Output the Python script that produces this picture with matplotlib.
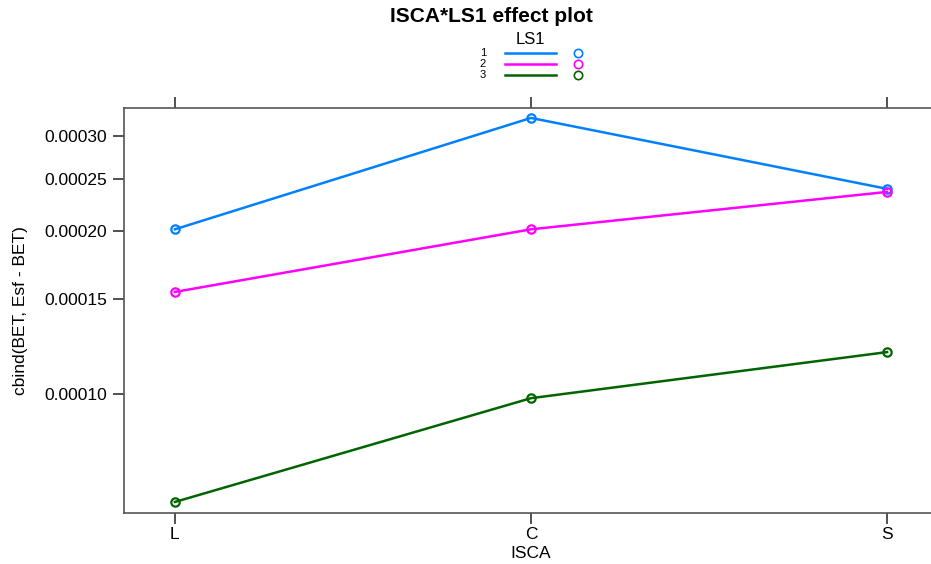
import numpy as np
import matplotlib.pyplot as plt
from matplotlib.lines import Line2D

plt.rcParams['font.family'] = ['Liberation Sans', 'DejaVu Sans']

# data
isca = ['L', 'C', 'S']
levels = ['1', '2', '3']
ls1_1 = [0.0002017, 0.000324, 0.0002396]
ls1_2 = [0.0001545, 0.0002017, 0.0002365]
ls1_3 = [0.0000632, 0.0000983, 0.0001196]
yticks = [0.00010, 0.00015, 0.00020, 0.00025, 0.00030]
colors = ['#0080ff', '#ff00ff', '#006400']

W, H = 931, 564
fig = plt.figure(figsize=(W / 100, H / 100), dpi=100)
# axes box in pixels: left 124, right 938 (runs past the edge), top 108, bottom 513
ax = fig.add_axes([124 / W, (H - 513) / H, (938 - 124) / W, (513 - 108) / H])

x = np.arange(1, len(isca) + 1)
for vals, c in zip([ls1_1, ls1_2, ls1_3], colors):
    ax.plot(x, vals, color=c, lw=1.8, marker='o', ms=6, mfc='none', mew=1.6)

ax.set_yscale('log')
ax.set_ylim(0.0000603, 0.000338)
ax.set_xlim(0.857, 3.143)
ax.set_yticks(yticks)
ax.set_yticklabels(['%.5f' % v for v in yticks])
ax.yaxis.set_minor_locator(plt.NullLocator())
ax.set_xticks(x)
ax.set_xticklabels(isca)

for s in ax.spines.values():
    s.set_color('#555555')
    s.set_linewidth(1.2)
ax.tick_params(axis='both', direction='out', length=8, width=1.2,
               color='#333333', labelsize=12.5, pad=4)
ax.tick_params(axis='x', top=True, pad=2)

ax.set_xlabel('ISCA', fontsize=12.5, labelpad=3)
ax.set_ylabel('cbind(BET, Esf - BET)', fontsize=12.5, labelpad=12)

fig.text(491 / W, 1 - 17 / H, 'ISCA*LS1 effect plot', ha='center', va='center',
         fontsize=15, fontweight='bold')

# key above the panel
fig.text(530 / W, 1 - 39 / H, 'LS1', ha='center', va='center', fontsize=12)
for i, (lab, c) in enumerate(zip(levels, colors)):
    yy = 1 - (53 + 11 * i) / H
    fig.text(483 / W, yy, lab, ha='center', va='center', fontsize=8)
    fig.add_artist(Line2D([505 / W, 556 / W], [yy, yy], color=c, lw=1.8,
                          transform=fig.transFigure))
    fig.add_artist(Line2D([578 / W], [yy], color=c, marker='o', ms=6,
                          mfc='none', mew=1.2, transform=fig.transFigure))

fig.savefig('out.png', dpi=100)
